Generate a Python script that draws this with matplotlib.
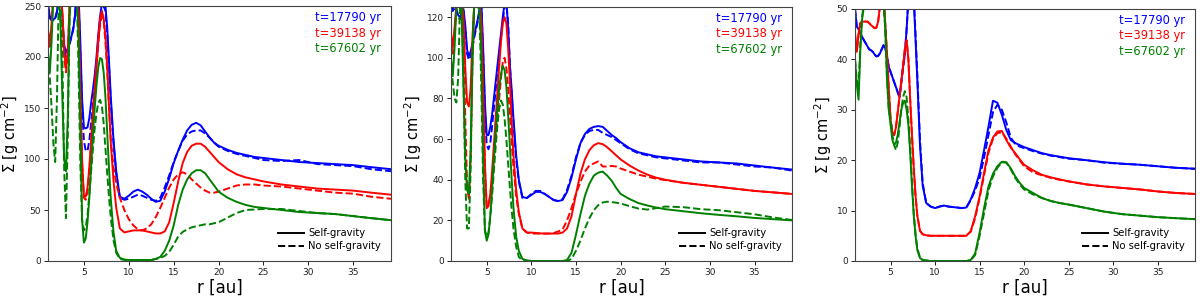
import matplotlib
matplotlib.use("Agg")
import matplotlib.pyplot as plt
from matplotlib.lines import Line2D

# ---------------- data ----------------
R = [1.0, 1.2, 1.4, 1.6, 1.8, 2.0, 2.2, 2.4, 2.6, 2.8,
     3.0, 3.2, 3.4, 3.6, 3.8, 4.0, 4.2, 4.4, 4.6, 4.8,
     5.0, 5.2, 5.4, 5.6, 5.8, 6.0, 6.2, 6.4, 6.6, 6.8,
     7.0, 7.2, 7.4, 7.6, 7.8, 8.0,
     8.3, 8.6, 9.0, 9.5,
     10, 10.5, 11, 11.5, 12, 12.5, 13, 13.5, 14, 14.5,
     15, 15.5, 16, 16.5, 17, 17.5, 18, 18.5, 19, 19.5,
     20, 21, 22, 23, 24, 25,
     27, 29, 31, 33, 35, 37, 39.2]

TIMES = ["t=17790 yr", "t=39138 yr", "t=67602 yr"]
STYLE_LABELS = ["Self-gravity", "No self-gravity"]
YLIMS = [250, 125, 50]
YTICKS = [[0, 50, 100, 150, 200, 250], [0, 20, 40, 60, 80, 100, 120], [0, 10, 20, 30, 40, 50]]
XTICKS = [5, 10, 15, 20, 25, 30, 35]

# Panel 1
P1_B_SG = [252, 240, 238, 237, 238, 245, 262, 262, 240, 212,
           205, 208, 213, 220, 226, 240, 265, 262, 215, 158,
           131, 130, 131, 140, 155, 168, 182, 200, 222, 240,
           252, 255, 250, 228, 195, 160,
           118, 88, 63, 61,
           64, 68, 70, 68, 65, 61, 58, 59, 68, 81,
           96, 108, 119, 128, 133.5, 135.5, 133, 127, 121, 116,
           113, 109, 106, 104, 102, 101,
           99, 97, 96, 95, 94, 92, 90]
P1_B_NSG = [250, 238, 236, 236, 237, 244, 262, 262, 236, 208,
            200, 205, 212, 220, 228, 240, 262, 258, 205, 150,
            118, 108, 108, 118, 135, 152, 170, 192, 215, 235,
            248, 250, 245, 222, 190, 155,
            115, 85, 62, 60,
            61, 63, 65, 64, 62, 60, 59, 62, 72, 84,
            97, 108, 118, 124, 127, 128, 128, 125, 121, 116,
            112, 108, 105, 103, 101, 99,
            98, 99, 95, 94, 93, 90, 88]
P1_R_SG = [226, 214, 232, 262, 265, 265, 265, 262, 245, 205,
           189, 205, 250, 265, 265, 265, 262, 245, 168, 98,
           64, 63, 72, 92, 118, 145, 170, 195, 218, 238,
           245, 238, 220, 190, 150, 115,
           78, 52, 32, 28,
           29, 30, 30, 30, 29, 28, 27, 27, 29, 38,
           57, 78, 96, 107, 113, 115, 115, 112, 107, 102,
           97, 90, 85, 82, 80, 78,
           75, 73, 71, 70, 69, 67, 65]
P1_R_NSG = [222, 210, 228, 262, 265, 265, 265, 260, 240, 200,
            185, 200, 248, 265, 265, 265, 262, 240, 160, 95,
            62, 60, 68, 88, 112, 140, 165, 190, 212, 232,
            240, 235, 215, 185, 150, 118,
            92, 76, 62, 50,
            41, 35, 31, 30, 32, 36, 43, 52, 62, 72,
            80, 85, 87, 85, 80, 76, 72, 69, 67, 67,
            68, 71, 74, 75, 75, 74,
            73, 71, 69, 67, 66, 63, 61]
P1_G_SG = [205, 185, 215, 262, 265, 265, 262, 230, 160, 100,
           88, 140, 240, 265, 265, 265, 262, 220, 130, 40,
           18, 22, 38, 62, 92, 122, 150, 172, 190, 199,
           198, 185, 160, 125, 90, 60,
           28, 10, 3, 1.5,
           1, 1, 1, 1, 1, 1, 2, 4, 10, 20,
           35, 55, 70, 80, 86, 89, 89, 86, 80, 74,
           68, 62, 58, 55, 53, 52,
           50, 48, 47, 46, 44, 42, 40]
P1_G_NSG = [200, 180, 150, 115, 97, 160, 262, 265, 200, 90,
            42, 120, 240, 265, 265, 265, 262, 190, 95, 40,
            30, 33, 45, 65, 88, 110, 130, 145, 155, 158,
            152, 135, 110, 85, 62, 42,
            20, 8, 2, 1,
            1, 1, 1, 1, 1, 1, 2, 3, 5, 9,
            16, 24, 28.5, 31, 33, 34, 35, 36, 36, 37,
            38, 42.5, 47, 50, 50.5, 51,
            51, 49, 47, 46, 44, 42, 40]

# Panel 2
P2_B_SG = [126, 124, 126, 124, 121, 120, 122, 124, 116, 104,
           101, 103, 107, 111, 115, 119, 124, 127, 105, 78,
           62, 62, 66, 72, 80, 88, 96, 104, 112, 120,
           127, 128, 115, 96, 84, 70,
           52, 40, 31.5, 31,
           32.5, 34, 34, 33, 31.5, 30, 29.5, 30, 34, 41,
           50, 58, 62.5, 65, 66, 66.4, 66, 64, 62, 60.5,
           58.5, 55.5, 53.5, 52.5, 51.5, 51,
           50, 49, 48.5, 48, 47, 46, 45]
P2_B_NSG = [125, 123, 125, 123, 120, 119, 121, 123, 114, 102,
            99, 101, 105, 110, 114, 118, 123, 126, 102, 74,
            57, 55, 58, 66, 75, 84, 93, 101, 110, 118,
            125, 127, 117, 96, 82, 68,
            50, 39, 31, 31,
            33, 34.5, 34.5, 33, 31.5, 30, 29.5, 30.5, 35, 42,
            51, 58, 62, 64, 64.5, 64.5, 63, 62, 61, 59.5,
            58, 55, 53, 52, 51, 50.5,
            49.5, 48.5, 48.5, 47.5, 46.5, 46, 44.5]
P2_R_SG = [112, 105, 115, 126, 128, 128, 127, 120, 95, 78,
           76, 85, 110, 126, 128, 128, 128, 118, 85, 48,
           26, 27, 33, 44, 57, 70, 83, 96, 108, 117,
           120, 117, 105, 88, 68, 52,
           35, 24, 16, 14,
           14, 13.8, 13.6, 13.5, 13.5, 13.5, 13.5, 14, 16, 22,
           33, 43, 50, 54.5, 57, 58, 57.5, 56, 54, 52,
           50, 47, 44.5, 42.5, 41, 40,
           38.5, 37.5, 36.5, 35.5, 34.5, 33.8, 33]
P2_R_NSG = [108, 102, 112, 124, 128, 128, 127, 110, 70, 38,
            30, 50, 95, 126, 128, 128, 128, 115, 82, 45,
            27, 28, 32, 40, 50, 60, 70, 80, 90, 98,
            100, 95, 85, 72, 58, 46,
            32, 23, 16, 14,
            13.5, 13.5, 13.5, 13.5, 13.5, 13.8, 14.5, 15.5, 20, 26,
            33, 39, 44, 47, 48, 49, 46.5, 46.5, 46.8, 46.5,
            45.5, 44, 42.5, 41.5, 40.5, 39.8,
            38.5, 37.5, 36.5, 35.5, 34.5, 33.8, 33]
P2_G_SG = [100, 91, 105, 125, 128, 128, 120, 85, 50, 35,
           33, 55, 100, 127, 128, 128, 126, 100, 50, 15,
           10, 13, 22, 35, 50, 63, 75, 85, 92, 96,
           94, 86, 72, 56, 40, 26,
           12, 5, 1, 0.3,
           0, 0, 0, 0, 0, 0, 0, 0, 0.5, 4,
           13, 23, 32, 38, 42, 43.5, 44, 42, 39.5, 36,
           33, 30.5, 28.5, 27.3, 26.3, 25.5,
           24.5, 23.5, 22.7, 22, 21.2, 20.6, 20]
P2_G_NSG = [95, 88, 80, 78, 90, 125, 128, 90, 40, 16,
            16, 45, 100, 127, 128, 128, 120, 85, 40, 15,
            12, 14, 22, 32, 44, 56, 67, 75, 79, 77,
            70, 60, 48, 36, 25, 16,
            7, 2, 0.3, 0,
            0, 0, 0, 0, 0, 0, 0, 0, 0, 1,
            5, 10, 16, 21, 25, 27.5, 28.8, 29.2, 29, 28.7,
            28.3, 27, 25.8, 25.3, 26, 26.8,
            26.5, 25.5, 25, 24, 23, 21.5, 20.2]

# Panel 3
P3_B_SG = [50, 46.5, 46, 45.2, 44.5, 43.8, 43.2, 42.6, 42, 41.8,
           41.5, 41, 40.6, 40.7, 41.2, 42, 42.8, 42.2, 40.5, 38.5,
           37.5, 36.5, 35.5, 34.5, 33.5, 32.5, 35.5, 38.5, 41, 46,
           52, 56, 57, 52, 44, 36,
           23, 15, 11.5, 10.8,
           10.5, 10.8, 11, 10.8, 10.7, 10.6, 10.5, 10.6, 12.2, 14.5,
           17.5, 22, 26.7, 31.8, 31.4, 29, 26, 24, 23.4, 23,
           22.6, 22, 21.4, 21, 20.7, 20.4,
           20, 19.6, 19.3, 19.1, 18.8, 18.5, 18.3]
P3_B_NSG = [50, 46.5, 46, 45.2, 44.5, 43.8, 43.2, 42.6, 42, 41.8,
            41.5, 41, 40.6, 40.7, 41.2, 42, 42.8, 42.2, 40.5, 38.5,
            37.5, 36.5, 35.5, 34.5, 33.5, 32.5, 35.5, 38.5, 41, 46,
            52, 56, 57, 53, 45, 37,
            24, 15.5, 11.5, 10.8,
            10.5, 10.8, 11, 10.8, 10.7, 10.6, 10.5, 10.6, 12, 14,
            16.5, 20.5, 25, 29.5, 31, 30, 27.5, 24.5, 23.2, 22.7,
            22.4, 21.8, 21.3, 20.9, 20.6, 20.3,
            20, 19.5, 19.3, 19.1, 18.8, 18.5, 18.3]
P3_R_SG = [45, 41.5, 45, 47.2, 47.5, 47.5, 47.5, 47.5, 47.2, 46.8,
           46.5, 46.2, 46.3, 47.5, 50.5, 53, 53, 47, 41, 34,
           28, 25.5, 25, 26.5, 29.5, 32.5, 35.5, 38.6, 42, 43.8,
           40, 32, 25, 18.5, 13, 9,
           6, 5.3, 5.1, 5,
           5, 5, 5, 5, 5, 5, 5, 5, 5.9, 8.9,
           12.8, 17.5, 22, 24.5, 25.7, 25.8, 24, 22.5, 21.4, 20.2,
           19.1, 18, 17.1, 16.6, 16.2, 15.8,
           15.2, 14.8, 14.5, 14.2, 13.8, 13.5, 13.3]
P3_R_NSG = [45, 41.5, 45, 47.2, 47.5, 47.5, 47.5, 47.5, 47.2, 46.8,
            46.5, 46.2, 46.3, 47.5, 50.5, 53, 53, 47, 41, 34,
            28, 25.5, 25, 26.5, 29.5, 32.5, 35.5, 38.6, 42, 43.8,
            40, 32, 25, 18.5, 13, 9,
            6, 5.3, 5.1, 5,
            5, 5, 5, 5, 5, 5, 5, 5, 5.8, 8.5,
            12.5, 17, 21.5, 24.2, 25.4, 25.5, 24.3, 22.7, 21.2, 20,
            18.8, 17.6, 17, 16.5, 16.1, 15.8,
            15.2, 14.8, 14.5, 14.2, 13.8, 13.5, 13.3]
P3_G_SG = [40, 35, 32, 42, 48, 50.5, 52, 53, 53, 53,
           53, 53, 53, 53, 53, 53, 52, 46, 36, 30,
           27, 24, 23, 23.5, 25, 27.5, 30, 31.3, 31.8, 30,
           27, 21.5, 15, 9, 5, 2.2,
           0.6, 0.2, 0.1, 0,
           0, 0, 0, 0, 0, 0, 0, 0, 0.2, 1.5,
           5.6, 10.5, 14.8, 17.3, 18.8, 19.7, 19.6, 18.4, 16.8, 15.5,
           14.5, 13.5, 12.5, 11.9, 11.5, 11.2,
           10.5, 9.8, 9.3, 9, 8.7, 8.5, 8.3]
P3_G_NSG = [40, 36, 34, 43, 48.5, 51, 52, 53, 53, 53,
            53, 53, 53, 53, 53, 53, 52, 46, 36, 30,
            28, 25, 23, 22, 23.5, 26.5, 30, 32.5, 33.7, 32.5,
            28, 22.5, 15.5, 9.5, 5.5, 2.5,
            0.7, 0.2, 0.1, 0,
            0, 0, 0, 0, 0, 0, 0, 0, 0.1, 1.2,
            5, 9.5, 14, 16.8, 18.5, 19.6, 19.5, 18.2, 16.5, 15.2,
            14.2, 13.2, 12.5, 11.9, 11.5, 11.2,
            10.5, 9.8, 9.3, 9, 8.7, 8.5, 8.3]

PANELS = [
    [(P1_B_SG, P1_B_NSG), (P1_R_SG, P1_R_NSG), (P1_G_SG, P1_G_NSG)],
    [(P2_B_SG, P2_B_NSG), (P2_R_SG, P2_R_NSG), (P2_G_SG, P2_G_NSG)],
    [(P3_B_SG, P3_B_NSG), (P3_R_SG, P3_R_NSG), (P3_G_SG, P3_G_NSG)],
]

# ---------------- style / layout ----------------
COLORS = ["blue", "red", "green"]
AX_RECTS = [
    [48 / 1200, 37 / 298, 343 / 1200, 255 / 298],
    [451 / 1200, 37 / 298, 341 / 1200, 254 / 298],
    [855 / 1200, 37 / 298, 340 / 1200, 252 / 298],
]

fig = plt.figure(figsize=(12, 2.98), dpi=100)

for p, series in enumerate(PANELS):
    ax = fig.add_axes(AX_RECTS[p])
    time_handles = []
    for i, (sg, nsg) in enumerate(series):
        h, = ax.plot(R, sg, color=COLORS[i], lw=1.4, label=TIMES[i])
        ax.plot(R, nsg, color=COLORS[i], lw=1.4, ls="--")
        time_handles.append(h)
    ax.set_xlim(1.0, 39.2)
    ax.set_ylim(0, YLIMS[p])
    ax.set_xticks(XTICKS)
    ax.set_yticks(YTICKS[p])
    ax.tick_params(labelsize=6.5, length=3, width=0.7, pad=2, colors="#222222")
    for s in ax.spines.values():
        s.set_linewidth(0.8)
        s.set_color("#444444")
    ax.set_xlabel("r [au]", fontsize=12, labelpad=1)
    ax.set_ylabel(r"$\Sigma$ [g cm$^{-2}$]", fontsize=10.5, labelpad=2)

    leg1 = ax.legend(handles=time_handles, loc="upper right", frameon=False,
                     handlelength=0, handletextpad=0, labelcolor="linecolor",
                     fontsize=8.3, borderaxespad=0.0, borderpad=0.25,
                     labelspacing=0.18, bbox_to_anchor=(0.978, 0.99))
    ax.add_artist(leg1)
    style_handles = [Line2D([0], [0], color="black", lw=1.4, ls="-"),
                     Line2D([0], [0], color="black", lw=1.4, ls="--")]
    ax.legend(handles=style_handles, labels=STYLE_LABELS, loc="lower right",
              frameon=False, fontsize=7.2, borderaxespad=0.6, labelspacing=0.3,
              handlelength=2.6, handletextpad=0.4)

fig.savefig("out.png", dpi=100)
